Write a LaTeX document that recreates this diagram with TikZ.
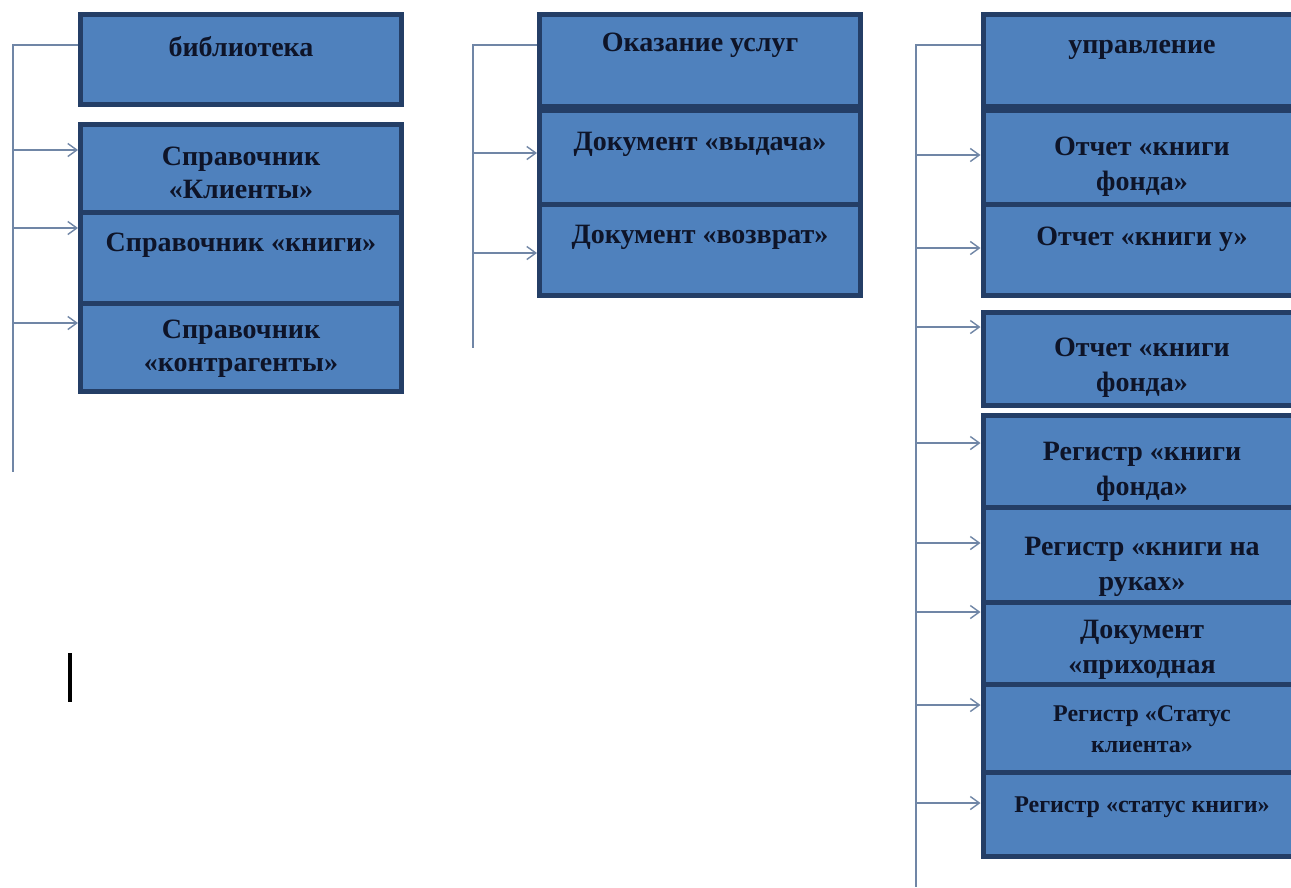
\documentclass[tikz,border=0pt]{standalone}
\usepackage{fontspec}
\setmainfont{Liberation Serif}
\usetikzlibrary{arrows.meta,positioning}
\definecolor{boxFill}{RGB}{79,129,189}
\definecolor{boxStroke}{RGB}{36,62,102}
\definecolor{lineStroke}{RGB}{112,134,166}
\definecolor{ink}{RGB}{14,20,40}
\tikzset{
  arrow/.style={-{Straight Barb[length=9pt,width=13pt,line width=1.4pt]}, draw=lineStroke, line width=1.4pt},
  connector/.style={draw=lineStroke, line width=1.4pt},
  block/.style={draw=boxStroke, fill=boxFill, line width=5pt, inner sep=0pt},
  blocktext/.style={anchor=north, inner sep=0pt, align=center, text=ink}
}

\begin{document}
\begin{tikzpicture}[x=1pt,y=-1pt]
  \clip (0,0) rectangle (1291,887);
  \fill[white] (0,0) rectangle (1291,887);

  % column 1
  \foreach \n/\yc/\h/\dy/\ay/\txt in {
      lib/59/90/24.5/33.5/библиотека,
      kli/168.25/87.5/25/28/{Справочник\\«Клиенты»},
      knigi/257.5/91/23.5/18.5/{Справочник «книги»},
      kontr/347/88/19.5/22.5/{Справочник\\«контрагенты»}}{
    \node[block, minimum width=321, minimum height=\h] (\n) at (241,\yc) {};
    \node[blocktext, font=\bfseries\fontsize{28}{33}\selectfont] (\n-t) at ([yshift=-\dy]\n.north) {\txt};
    \coordinate (\n-in) at ([yshift=-\ay]\n.north west);
  }
  \coordinate (s1) at (13,472);
  \draw[connector] (lib-in) -- (s1 |- lib-in) -- (s1);
  \foreach \n in {kli,knigi,kontr}
    \draw[arrow] (s1 |- \n-in) -- (\n-in);

  % column 2
  \foreach \n/\yc/\h/\dy/\ay/\txt in {
      usl/60/92/21.5/33.5/{Оказание услуг},
      vyd/157.25/93.5/24/45/{Документ «выдача»},
      vozv/249.5/91/23.5/51.5/{Документ «возврат»}}{
    \node[block, minimum width=321, minimum height=\h] (\n) at (700,\yc) {};
    \node[blocktext, font=\bfseries\fontsize{28}{33}\selectfont] (\n-t) at ([yshift=-\dy]\n.north) {\txt};
    \coordinate (\n-in) at ([yshift=-\ay]\n.north west);
  }
  \coordinate (s2) at (473,348);
  \draw[connector] (usl-in) -- (s2 |- usl-in) -- (s2);
  \foreach \n in {vyd,vozv}
    \draw[arrow] (s2 |- \n-in) -- (\n-in);

  % column 3
  \foreach \n/\yc/\h/\dy/\ay/\fs/\bs/\txt in {
      upr/60/92/28.5/33.5/28/35/управление,
      otch1/157.25/93.5/29/47/28/35/{Отчет «книги\\фонда»},
      otch2/249.5/91/25.5/46.5/28/35/{Отчет «книги у»},
      otch3/358.5/93/28.5/17.5/28/35/{Отчет «книги\\фонда»},
      reg1/461/92/29.5/30.5/28/35/{Регистр «книги\\фонда»},
      reg2/554.5/95/32.5/38.5/28/35/{Регистр «книги на\\руках»},
      doc/643/82/20.5/12.5/28/35/{Документ\\«приходная},
      regs/728/88/23.5/23.5/24/31/{Регистр «Статус\\клиента»},
      regk/814/84/27.5/33.5/24/31/{Регистр «статус книги»}}{
    \node[block, minimum width=318, minimum height=\h] (\n) at (1142,\yc) {};
    \node[blocktext, font=\bfseries\fontsize{\fs}{\bs}\selectfont] (\n-t) at ([yshift=-\dy]\n.north) {\txt};
    \coordinate (\n-in) at ([yshift=-\ay]\n.north west);
  }
  \coordinate (s3) at (916,887);
  \draw[connector] (upr-in) -- (s3 |- upr-in) -- (s3);
  \foreach \n in {otch1,otch2,otch3,reg1,reg2,doc,regs,regk}
    \draw[arrow] (s3 |- \n-in) -- (\n-in);

  % text cursor
  \draw[black, line width=4] (69.5,653) -- (69.5,702);
\end{tikzpicture}
\end{document}
